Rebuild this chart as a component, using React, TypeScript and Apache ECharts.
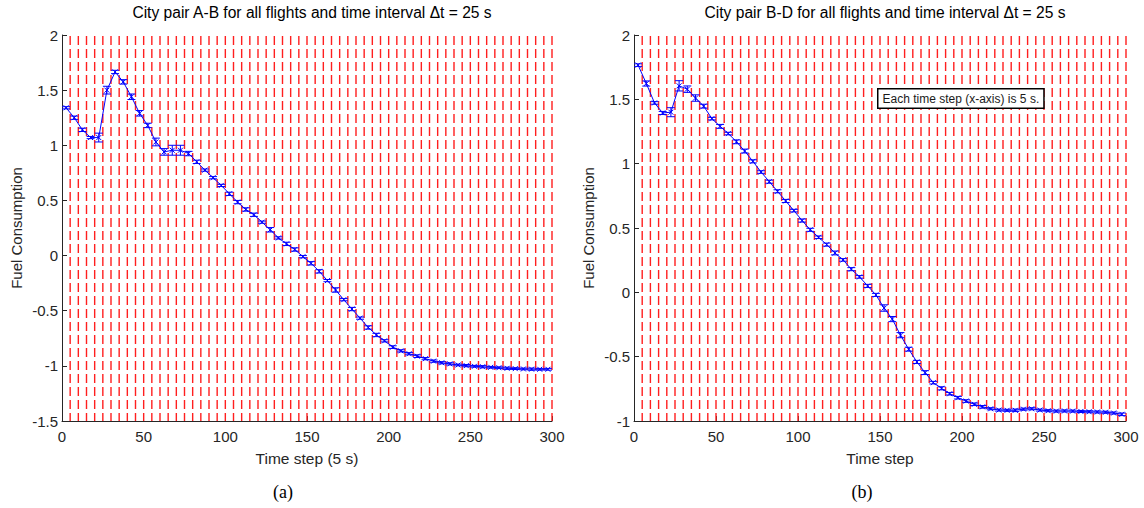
import React, { useEffect, useRef } from "react";
import * as echarts from "echarts";

const TITLES = [
  "City pair A-B for all flights and time interval \u0394t = 25 s",
  "City pair B-D for all flights and time interval \u0394t = 25 s",
];
const X_NAMES = ["Time step (5 s)", "Time step"];
const Y_NAME = "Fuel Consumption";
const CAPTIONS = ["(a)", "(b)"];
const NOTE = "Each time step (x-axis) is 5 s.";

// boundaries of each 25 s interval (every 5 time steps)
const INTERVAL_EDGES = [
  5, 10, 15, 20, 25, 30, 35, 40, 45, 50, 55, 60, 65, 70, 75, 80, 85, 90, 95, 100,
  105, 110, 115, 120, 125, 130, 135, 140, 145, 150, 155, 160, 165, 170, 175, 180, 185, 190, 195, 200,
  205, 210, 215, 220, 225, 230, 235, 240, 245, 250, 255, 260, 265, 270, 275, 280, 285, 290, 295, 300,
];

// time-step midpoints of each 25 s interval (5 steps)
const STEPS = [
  2.5, 7.5, 12.5, 17.5, 22.5, 27.5, 32.5, 37.5, 42.5, 47.5,
  52.5, 57.5, 62.5, 67.5, 72.5, 77.5, 82.5, 87.5, 92.5, 97.5,
  102.5, 107.5, 112.5, 117.5, 122.5, 127.5, 132.5, 137.5, 142.5, 147.5,
  152.5, 157.5, 162.5, 167.5, 172.5, 177.5, 182.5, 187.5, 192.5, 197.5,
  202.5, 207.5, 212.5, 217.5, 222.5, 227.5, 232.5, 237.5, 242.5, 247.5,
  252.5, 257.5, 262.5, 267.5, 272.5, 277.5, 282.5, 287.5, 292.5, 297.5,
];

const FUEL_AB = [
  1.34, 1.25, 1.14, 1.07, 1.07, 1.5, 1.665, 1.575, 1.44, 1.29,
  1.18, 1.03, 0.94, 0.955, 0.955, 0.925, 0.85, 0.775, 0.706, 0.636,
  0.56, 0.485, 0.418, 0.37, 0.303, 0.234, 0.16, 0.106, 0.055, -0.01,
  -0.07, -0.143, -0.227, -0.312, -0.4, -0.485, -0.567, -0.652, -0.72, -0.773,
  -0.83, -0.864, -0.89, -0.912, -0.935, -0.957, -0.972, -0.982, -0.992, -0.998,
  -1.004, -1.008, -1.013, -1.017, -1.022, -1.025, -1.028, -1.03, -1.031, -1.031,
];
const ERR_AB = [
  0.01, 0.015, 0.015, 0.01, 0.04, 0.035, 0.015, 0.02, 0.025, 0.025,
  0.02, 0.035, 0.03, 0.045, 0.045, 0.02, 0.015, 0.01, 0.01, 0.01,
  0.015, 0.015, 0.015, 0.015, 0.01, 0.02, 0.01, 0.015, 0.015, 0.01,
  0.015, 0.015, 0.01, 0.02, 0.01, 0.015, 0.01, 0.015, 0.015, 0.01,
  0.012, 0.01, 0.01, 0.012, 0.01, 0.01, 0.01, 0.01, 0.008, 0.01,
  0.008, 0.01, 0.008, 0.008, 0.01, 0.008, 0.008, 0.01, 0.008, 0.008,
];

const FUEL_BD = [
  1.766, 1.623, 1.472, 1.394, 1.4, 1.605, 1.579, 1.51, 1.447, 1.35,
  1.29, 1.234, 1.17, 1.098, 1.018, 0.935, 0.86, 0.785, 0.71, 0.635,
  0.558, 0.486, 0.428, 0.371, 0.306, 0.252, 0.18, 0.12, 0.05, -0.02,
  -0.122, -0.208, -0.333, -0.442, -0.541, -0.624, -0.702, -0.746, -0.788, -0.819,
  -0.845, -0.87, -0.89, -0.905, -0.915, -0.917, -0.917, -0.908, -0.905, -0.915,
  -0.92, -0.923, -0.922, -0.923, -0.926, -0.928, -0.93, -0.932, -0.938, -0.948,
];
const ERR_BD = [
  0.01, 0.02, 0.01, 0.012, 0.035, 0.04, 0.025, 0.025, 0.015, 0.01,
  0.015, 0.01, 0.015, 0.015, 0.012, 0.01, 0.012, 0.012, 0.012, 0.01,
  0.012, 0.012, 0.01, 0.012, 0.015, 0.01, 0.012, 0.01, 0.012, 0.012,
  0.025, 0.02, 0.02, 0.015, 0.012, 0.015, 0.01, 0.012, 0.01, 0.01,
  0.01, 0.01, 0.01, 0.008, 0.008, 0.008, 0.01, 0.008, 0.008, 0.008,
  0.008, 0.008, 0.008, 0.008, 0.008, 0.008, 0.008, 0.008, 0.008, 0.01,
];

const BLUE = "#0000ff";
const RED = "#ff1f1f";
const INK = "#262626";
const FONT = "'Liberation Sans', Arial, sans-serif";

function errRender(params: any, api: any) {
  const x = api.value(0);
  const y = api.value(1);
  const e = api.value(2);
  const p = api.coord([x, y]);
  const hi = api.coord([x, y + e]);
  const lo = api.coord([x, y - e]);
  const w = 4;
  const m = 2.5;
  const st = { stroke: BLUE, lineWidth: 1 };
  return {
    type: "group",
    children: [
      { type: "line", shape: { x1: p[0], y1: hi[1], x2: p[0], y2: lo[1] }, style: st },
      { type: "line", shape: { x1: p[0] - w, y1: hi[1], x2: p[0] + w, y2: hi[1] }, style: st },
      { type: "line", shape: { x1: p[0] - w, y1: lo[1], x2: p[0] + w, y2: lo[1] }, style: st },
      { type: "line", shape: { x1: p[0] - m, y1: p[1] - m, x2: p[0] + m, y2: p[1] + m }, style: st },
      { type: "line", shape: { x1: p[0] - m, y1: p[1] + m, x2: p[0] + m, y2: p[1] - m }, style: st },
    ],
  };
}

function edgeRender(params: any, api: any) {
  const cs = params.coordSys;
  const p = api.coord([api.value(0), 0]);
  return {
    type: "line",
    shape: { x1: p[0], y1: cs.y + 1, x2: p[0], y2: cs.y + cs.height },
    style: { stroke: RED, lineWidth: 1.4, lineDash: [9, 4] },
  };
}

export default function App() {
  const ref = useRef<HTMLDivElement>(null);
  useEffect(() => {
    if (!ref.current) return;
    const chart = echarts.init(ref.current, undefined, { renderer: "svg" });

    const grids = [
      { left: 62, top: 35, width: 490, height: 386 },
      { left: 634, top: 35, width: 492, height: 386 },
    ];
    const yRanges = [
      [-1.5, 2],
      [-1, 2],
    ];
    const datas = [FUEL_AB, FUEL_BD];
    const errs = [ERR_AB, ERR_BD];

    const xAxis: any[] = [];
    const yAxis: any[] = [];
    const series: any[] = [];
    const title: any[] = [];

    grids.forEach((g, i) => {
      title.push({
        text: TITLES[i],
        left: g.left + g.width / 2,
        top: -1,
        textAlign: "center",
        textStyle: { fontSize: 15.6, fontWeight: "normal", color: "#000", fontFamily: FONT },
      });
      xAxis.push({
        gridIndex: i,
        type: "value",
        min: 0,
        max: 300,
        interval: 50,
        position: "bottom",
        name: X_NAMES[i],
        nameLocation: "middle",
        nameGap: 29,
        nameTextStyle: { fontSize: 15.5, color: INK, fontFamily: FONT },
        axisLine: { show: true, onZero: false, lineStyle: { color: INK, width: 1 } },
        axisTick: { show: true, inside: true, length: 5, lineStyle: { color: INK } },
        axisLabel: { color: INK, fontSize: 15, margin: 8, fontFamily: FONT },
        splitLine: { show: false },
      });
      yAxis.push({
        gridIndex: i,
        type: "value",
        min: yRanges[i][0],
        max: yRanges[i][1],
        interval: 0.5,
        name: Y_NAME,
        nameLocation: "middle",
        nameGap: 38,
        nameTextStyle: { fontSize: 15, color: INK, fontFamily: FONT },
        axisLine: { show: true, onZero: false, lineStyle: { color: INK, width: 1 } },
        axisTick: { show: true, inside: true, length: 5, lineStyle: { color: INK } },
        axisLabel: { color: INK, fontSize: 15, margin: 4, fontFamily: FONT },
        splitLine: { show: false },
      });
      series.push({
        type: "custom",
        xAxisIndex: i,
        yAxisIndex: i,
        data: INTERVAL_EDGES.map((v) => [v]),
        renderItem: edgeRender,
        silent: true,
        z: 1,
      });
      series.push({
        type: "line",
        xAxisIndex: i,
        yAxisIndex: i,
        data: STEPS.map((s, k) => [s, datas[i][k]]),
        showSymbol: false,
        symbol: "none",
        lineStyle: { color: BLUE, width: 1 },
        z: 5,
      });
      series.push({
        type: "custom",
        xAxisIndex: i,
        yAxisIndex: i,
        data: STEPS.map((s, k) => [s, datas[i][k], errs[i][k]]),
        renderItem: errRender,
        z: 6,
      });
    });

    chart.setOption({
      animation: false,
      backgroundColor: "#ffffff",
      textStyle: { fontFamily: FONT },
      title,
      grid: grids,
      xAxis,
      yAxis,
      series,
      graphic: [
        {
          type: "text",
          left: 877,
          top: 88,
          z: 100,
          style: {
            text: NOTE,
            fontSize: 12,
            fontFamily: FONT,
            fill: "#1a1a1a",
            backgroundColor: "#ffffff",
            borderColor: "#000000",
            borderWidth: 1.5,
            padding: [3, 4, 3, 4],
          },
        },
        {
          type: "text",
          x: 283,
          y: 492,
          style: {
            text: CAPTIONS[0],
            fontSize: 18,
            fontFamily: "'Liberation Serif', 'DejaVu Serif', serif",
            fill: "#000",
            align: "center",
            verticalAlign: "middle",
          },
        },
        {
          type: "text",
          x: 862,
          y: 492,
          style: {
            text: CAPTIONS[1],
            fontSize: 18,
            fontFamily: "'Liberation Serif', 'DejaVu Serif', serif",
            fill: "#000",
            align: "center",
            verticalAlign: "middle",
          },
        },
      ],
    });
    return () => chart.dispose();
  }, []);
  return (
    <div
      ref={ref}
      style={{ position: "absolute", left: 0, top: 0, width: 1144, height: 508, background: "#fff" }}
    />
  );
}
